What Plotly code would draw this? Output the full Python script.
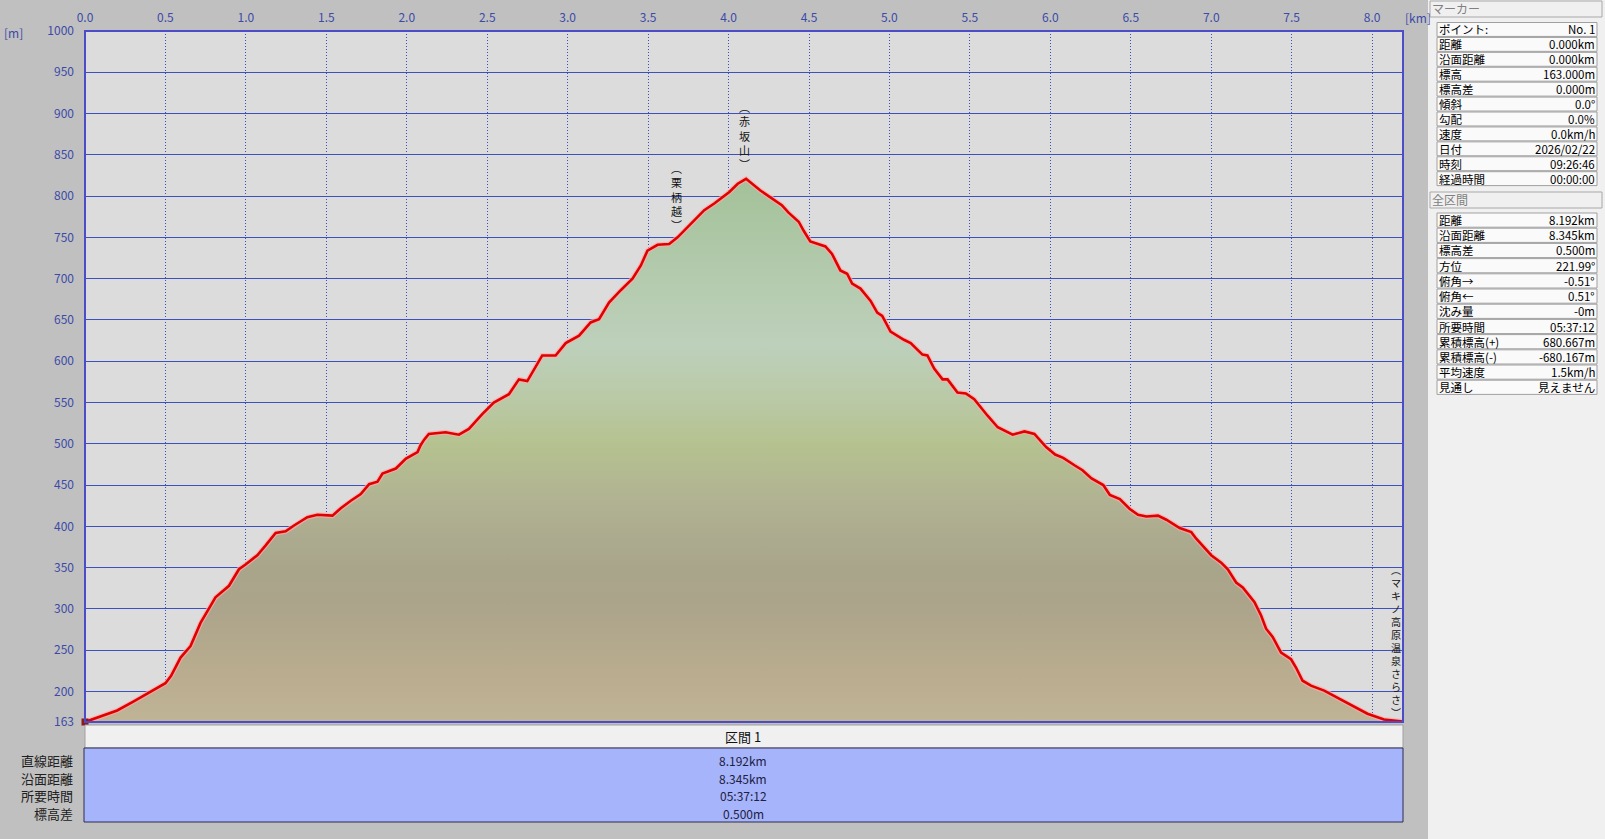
import plotly.graph_objects as go

# ---------------- data ----------------
distance_km = [0.000, 0.200, 0.303, 0.407, 0.500, 0.535, 0.594, 0.656, 0.718, 0.781, 0.811, 0.895,
               0.957, 1.000, 1.071, 1.123, 1.185, 1.247, 1.299, 1.382, 1.444, 1.538, 1.590, 1.652,
               1.714, 1.766, 1.818, 1.849, 1.932, 1.995, 2.067, 2.085, 2.108, 2.137, 2.241, 2.324,
               2.386, 2.469, 2.541, 2.635, 2.697, 2.749, 2.842, 2.925, 2.988, 3.071, 3.143, 3.195,
               3.257, 3.330, 3.403, 3.455, 3.496, 3.559, 3.631, 3.683, 3.745, 3.849, 3.911, 4.005,
               4.057, 4.109, 4.196, 4.259, 4.331, 4.373, 4.436, 4.467, 4.508, 4.602, 4.643, 4.695,
               4.737, 4.768, 4.820, 4.883, 4.924, 4.955, 5.007, 5.090, 5.132, 5.205, 5.236, 5.278,
               5.330, 5.361, 5.423, 5.475, 5.527, 5.610, 5.673, 5.766, 5.839, 5.901, 5.974, 6.030,
               6.080, 6.150, 6.200, 6.256, 6.329, 6.370, 6.432, 6.494, 6.545, 6.597, 6.669, 6.721,
               6.804, 6.876, 6.907, 7.000, 7.062, 7.103, 7.155, 7.196, 7.269, 7.310, 7.341, 7.382,
               7.434, 7.496, 7.527, 7.568, 7.620, 7.702, 7.826, 7.909, 7.971, 8.074, 8.192]
elevation_m = [163, 177, 188, 200, 210, 219, 241, 255, 283, 304, 314, 328,
               348, 354, 365, 377, 392, 394, 401, 411, 414, 413, 422, 431,
               439, 451, 454, 464, 470, 482, 490, 498, 505, 512, 514, 511,
               518, 536, 550, 560, 578, 576, 607, 607, 622, 631, 647, 651,
               671, 686, 700, 716, 734, 741, 742, 750, 762, 783, 791, 805,
               815, 821, 807, 799, 789, 780, 769, 758, 745, 739, 730, 710,
               706, 694, 688, 673, 659, 655, 636, 626, 622, 608, 607, 591,
               578, 578, 562, 561, 554, 534, 520, 511, 515, 512, 496, 487,
               483, 474, 468, 458, 450, 438, 433, 421, 414, 412, 413, 408,
               398, 393, 385, 365, 356, 348, 332, 326, 308, 292, 276, 266,
               247, 239, 229, 213, 207, 201, 188, 179, 173, 166, 163.5]

x_tick_vals = [0.0, 0.5, 1.0, 1.5, 2.0, 2.5, 3.0, 3.5, 4.0, 4.5, 5.0, 5.5, 6.0, 6.5, 7.0, 7.5, 8.0]
x_tick_text = ["0.0", "0.5", "1.0", "1.5", "2.0", "2.5", "3.0", "3.5", "4.0", "4.5", "5.0", "5.5",
               "6.0", "6.5", "7.0", "7.5", "8.0"]
y_tick_vals = [163, 200, 250, 300, 350, 400, 450, 500, 550, 600, 650, 700, 750, 800, 850, 900, 950, 1000]

landmark_names = ["赤坂山", "栗柄越", "マキノ高原温泉さらさ"]
landmark_km = [4.10, 3.675, 8.147]
landmark_mid_m = [873, 800, 261]

marker_labels = ["ポイント:", "距離", "沿面距離", "標高", "標高差", "傾斜", "勾配", "速度", "日付", "時刻", "経過時間"]
marker_values = ["No. 1", "0.000km", "0.000km", "163.000m", "0.000m", "0.0°", "0.0%", "0.0km/h",
                 "2026/02/22", "09:26:46", "00:00:00"]
section_labels = ["距離", "沿面距離", "標高差", "方位", "俯角→", "俯角←", "沈み量", "所要時間",
                  "累積標高(+)", "累積標高(-)", "平均速度", "見通し"]
section_values = ["8.192km", "8.345km", "0.500m", "221.99°", "-0.51°", "0.51°", "-0m", "05:37:12",
                  "680.667m", "-680.167m", "1.5km/h", "見えません"]

segment_title = "区間 1"
segment_labels = ["直線距離", "沿面距離", "所要時間", "標高差"]
segment_values = ["8.192km", "8.345km", "05:37:12", "0.500m"]

# ---------------- layout geometry ----------------
W, H = 1605, 839
L, R, T, B = 85, 1403, 31, 722   # plot area in pixels
FONT = "Noto Sans CJK JP"
BLUE = "#3c50be"


def px(xp):
    return (xp - L) / (R - L)


def py(yp):
    return (B - yp) / (B - T)


fig = go.Figure()

fig.add_trace(go.Scatter(
    x=distance_km, y=elevation_m, mode="lines",
    line=dict(color="rgba(255,170,170,0.7)", width=5),
    fill="tozeroy",
    fillgradient=dict(
        type="vertical", start=163, stop=822,
        colorscale=[[0.0, "#c0b496"], [0.086, "#baad8f"], [0.208, "#aca48b"], [0.284, "#a8a58b"],
                    [0.39, "#b0b092"], [0.511, "#b5c290"], [0.602, "#bacaa8"], [0.693, "#bdd0bb"],
                    [0.815, "#b4cbae"], [1.0, "#a3c199"]]),
    hoverinfo="skip", showlegend=False))

fig.add_trace(go.Scatter(
    x=distance_km, y=elevation_m, mode="lines",
    line=dict(color="#e00000", width=2.6),
    showlegend=False))

fig.add_trace(go.Scatter(
    x=distance_km[:1], y=elevation_m[:1], mode="markers",
    marker=dict(symbol="square", size=7, color="#8b1a1a"),
    showlegend=False, hoverinfo="skip", cliponaxis=False))

shapes = []
annotations = []

# plot border
shapes.append(dict(type="rect", xref="paper", yref="paper", x0=0, x1=1, y0=0, y1=1,
                   line=dict(color="#4c4cc8", width=2), layer="above"))

# axis unit labels
annotations.append(dict(xref="paper", yref="paper", x=px(2), y=py(33), text="[m]", showarrow=False,
                        xanchor="left", yanchor="middle", font=dict(color="#3c4aa8", size=12, family=FONT)))
annotations.append(dict(xref="paper", yref="paper", x=px(1403), y=py(17), text="[km]", showarrow=False,
                        xanchor="left", yanchor="middle", font=dict(color="#3c4aa8", size=12, family=FONT)))

# vertical landmark labels (characters stacked in one text)
for name, xk, ymid in zip(landmark_names, landmark_km, landmark_mid_m):
    stacked = "<br>".join(["︵"] + list(name) + ["︶"])
    fsize = 10 if len(name) > 5 else 11
    annotations.append(dict(x=xk, y=ymid, xref="x", yref="y", text=stacked, showarrow=False,
                            xanchor="center", yanchor="middle", align="center", borderpad=0,
                            font=dict(color="#111111", size=fsize, family=FONT)))

# bottom section table
shapes.append(dict(type="rect", xref="paper", yref="paper", x0=px(L), x1=px(R), y0=py(725), y1=py(748),
                   fillcolor="#f0f0f0", line=dict(color="#a0a0a0", width=1), layer="above"))
shapes.append(dict(type="rect", xref="paper", yref="paper", x0=px(L - 1), x1=px(R), y0=py(748), y1=py(822),
                   fillcolor="#a6b4fc", line=dict(color="#2c2c50", width=1), layer="above"))
annotations.append(dict(xref="paper", yref="paper", x=px(743), y=py(736.5), text=segment_title, showarrow=False,
                        xanchor="center", yanchor="middle", font=dict(color="#111111", size=13, family=FONT)))
seg_rows_y = [760.5, 778, 795.5, 813]
for lab, val, yy in zip(segment_labels, segment_values, seg_rows_y):
    annotations.append(dict(xref="paper", yref="paper", x=px(74), y=py(yy), text=lab, showarrow=False,
                            xanchor="right", yanchor="middle", borderpad=0,
                            font=dict(color="#202020", size=13, family=FONT)))
    annotations.append(dict(xref="paper", yref="paper", x=px(743), y=py(yy), text=val, showarrow=False,
                            xanchor="center", yanchor="middle", borderpad=0,
                            font=dict(color="#202040", size=12, family=FONT)))

# right info panel
shapes.append(dict(type="rect", xref="paper", yref="paper", x0=px(1428), x1=px(1606), y0=py(-1), y1=py(840),
                   fillcolor="#f0f0f0", line=dict(width=0), layer="above"))


def header(text, y0, y1):
    shapes.append(dict(type="rect", xref="paper", yref="paper", x0=px(1430), x1=px(1602), y0=py(y0), y1=py(y1),
                       fillcolor="#f0f0f0", line=dict(color="#a8a8a8", width=1), layer="above"))
    annotations.append(dict(xref="paper", yref="paper", x=px(1431), y=py((y0 + y1) / 2), text=text,
                            showarrow=False, xanchor="left", yanchor="middle", borderpad=0,
                            font=dict(color="#808080", size=12, family=FONT)))


def info_table(labels, values, top, rowh):
    for i, (lab, val) in enumerate(zip(labels, values)):
        y0 = top + i * rowh
        y1 = y0 + rowh - 1
        shapes.append(dict(type="rect", xref="paper", yref="paper", x0=px(1437), x1=px(1597),
                           y0=py(y0), y1=py(y1), fillcolor="#fafafa",
                           line=dict(color="#a0a0a0", width=1), layer="above"))
        yc = (y0 + y1) / 2
        annotations.append(dict(xref="paper", yref="paper", x=px(1438), y=py(yc), text=lab, showarrow=False,
                                xanchor="left", yanchor="middle", borderpad=0,
                                font=dict(color="#000000", size=11.5, family=FONT)))
        annotations.append(dict(xref="paper", yref="paper", x=px(1596), y=py(yc), text=val, showarrow=False,
                                xanchor="right", yanchor="middle", borderpad=0,
                                font=dict(color="#000000", size=11.5, family=FONT)))


header("マーカー", 1, 17)
info_table(marker_labels, marker_values, 22.5, 14.92)
header("全区間", 192, 208)
info_table(section_labels, section_values, 213, 15.2)

fig.update_layout(
    width=W, height=H, autosize=False,
    margin=dict(l=L, r=W - R, t=T, b=H - B, pad=0, autoexpand=False),
    paper_bgcolor="#c0c0c0", plot_bgcolor="#dcdcdc",
    font=dict(family=FONT, size=12, color="#3c4aa8"),
    shapes=shapes, annotations=annotations,
    xaxis=dict(range=[0, 8.192], side="top", tickvals=x_tick_vals, ticktext=x_tick_text,
               showgrid=True, gridcolor=BLUE, griddash="1px,2px", gridwidth=1, zeroline=False,
               automargin=False,
               ticks="", ticklabelstandoff=6, tickfont=dict(size=12, color="#3c4aa8", family=FONT),
               fixedrange=True),
    yaxis=dict(range=[163, 1000], tickvals=y_tick_vals, showgrid=True, gridcolor=BLUE, gridwidth=1.2,
               zeroline=False, ticks="", ticklabelstandoff=10, automargin=False,
               tickfont=dict(size=12, color="#3c4aa8", family=FONT), fixedrange=True),
    showlegend=False,
)

fig.write_html("out.html", config={"displayModeBar": False},
               post_script="document.body.style.margin='0px';document.body.style.overflow='hidden';")
